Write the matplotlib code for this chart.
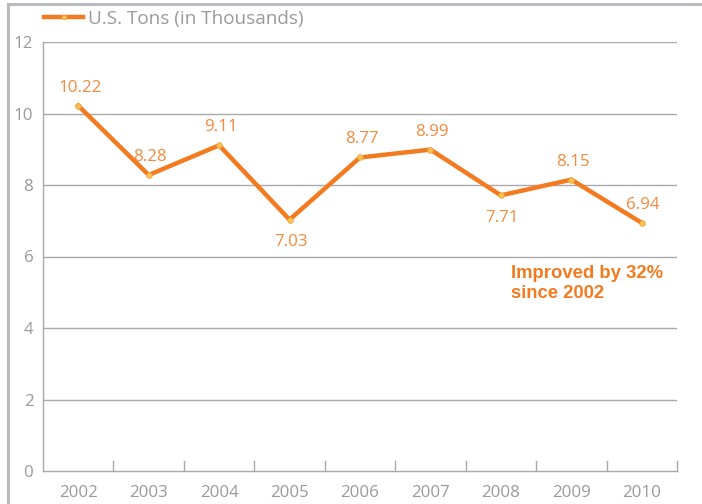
import matplotlib.pyplot as plt
from matplotlib.lines import Line2D

years = ["2002", "2003", "2004", "2005", "2006", "2007", "2008", "2009", "2010"]
tons = [10.22, 8.28, 9.11, 7.03, 8.77, 8.99, 7.71, 8.15, 6.94]
label_pos = ["above", "above", "above", "below", "above", "above", "below", "above", "above"]
y_ticks = [0, 2, 4, 6, 8, 10, 12]

ORANGE = "#F47A20"
LABEL_ORANGE = "#F58A3C"
GRAY_TEXT = "#9A9A9A"
GRID = "#A9A9A9"
FRAME = "#B8BCC1"

plt.rcParams["font.family"] = ["Open Sans", "DejaVu Sans"]

fig = plt.figure(figsize=(7.02, 5.04), dpi=100)
ax = fig.add_axes([43 / 702, 33 / 504, 634 / 702, 429 / 504])

x = list(range(len(years)))
ax.plot(x, tons, color=ORANGE, linewidth=3.2, solid_joinstyle="miter", zorder=3,
        marker="o", markersize=4, markerfacecolor="#F9C74F", markeredgecolor="#F59B3A",
        markeredgewidth=0.6)

for xi, v, pos in zip(x, tons, label_pos):
    dy = 13 if pos == "above" else -16
    ax.annotate(f"{v:.2f}", (xi, v), xytext=(1, dy), textcoords="offset points",
                ha="center", va="center", color=LABEL_ORANGE, fontsize=12.2)

ax.text(6.14, 5.24, "Improved by 32%\nsince 2002", color=ORANGE, fontsize=13.3,
        fontweight="bold", family=["Liberation Sans", "DejaVu Sans"],
        ha="left", va="center", linespacing=1.2)

ax.set_xlim(-0.5, len(years) - 0.5)
ax.set_ylim(0, 12)
ax.set_yticks(y_ticks)
ax.set_yticklabels([str(t) for t in y_ticks])
ax.set_xticks(x)
ax.set_xticklabels(years)
ax.tick_params(axis="both", length=0, colors=GRAY_TEXT, labelsize=12.2)
ax.tick_params(axis="y", pad=7)
ax.tick_params(axis="x", pad=10)

for t in y_ticks[1:]:
    ax.axhline(t, color=GRID, linewidth=1.0, zorder=1)

# category boundary ticks pointing up from the baseline
for b in range(1, len(years) + 1):
    ax.plot([b - 0.5, b - 0.5], [0, 0.28], color=GRID, linewidth=1.0, zorder=1,
            clip_on=False)

for side in ["top", "right"]:
    ax.spines[side].set_visible(False)
for side in ["left", "bottom"]:
    ax.spines[side].set_color(GRID)
    ax.spines[side].set_linewidth(1.0)

# legend drawn by hand at the top
fig.add_artist(Line2D([44 / 702, 83 / 702], [1 - 17 / 504, 1 - 17 / 504], color=ORANGE,
                      linewidth=3.2, transform=fig.transFigure))
fig.add_artist(Line2D([64 / 702], [1 - 17 / 504], marker="o", markersize=3.5,
                      markerfacecolor="#F9C74F", markeredgecolor="#F59B3A",
                      markeredgewidth=0.5, transform=fig.transFigure))
fig.text(88 / 702, 1 - 19 / 504, "U.S. Tons (in Thousands)", color=GRAY_TEXT,
         fontsize=13.6, ha="left", va="center")

# outer frame lines (left and top)
fig.add_artist(Line2D([8 / 702, 8 / 702], [0, 1 - 4 / 504], color=FRAME,
                      linewidth=2.2, transform=fig.transFigure, zorder=5))
fig.add_artist(Line2D([8 / 702, 1], [1 - 4 / 504, 1 - 4 / 504], color=FRAME,
                      linewidth=2.2, transform=fig.transFigure, zorder=5))

fig.savefig("out.png", dpi=100)
